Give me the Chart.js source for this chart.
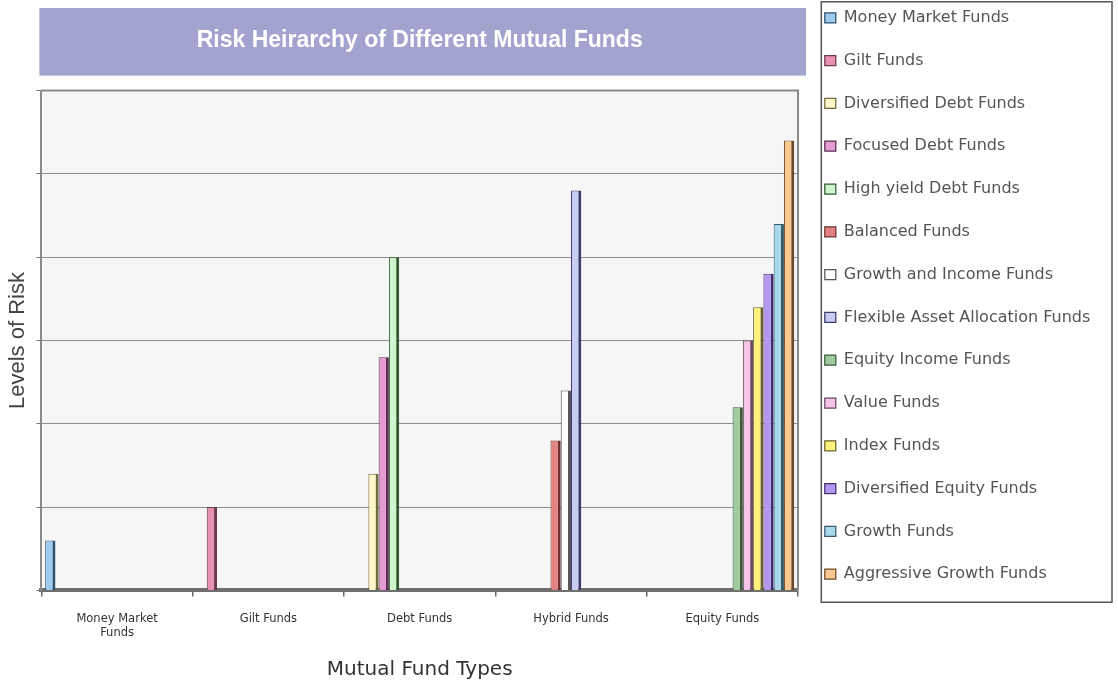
<!DOCTYPE html>
<html>
<head>
<meta charset="utf-8">
<script src="https://cdn.jsdelivr.net/npm/chart.js@4.4.1/dist/chart.umd.min.js"></script>
<style>
  html, body { margin: 0; padding: 0; background: #fff; }
  #wrap { width: 1118px; height: 696px; position: relative; }
</style>
</head>
<body>
<div id="wrap"><canvas id="riskChart"></canvas></div>
<script>
// categories on the x axis (tick text, first one wraps on two lines)
const fundTypes = [['Money Market', 'Funds'], 'Gilt Funds', 'Debt Funds', 'Hybrid Funds', 'Equity Funds'];

// one series per fund kind
const fundNames = [
  'Money Market Funds',
  'Gilt Funds',
  'Diversified Debt Funds',
  'Focused Debt Funds',
  'High yield Debt Funds',
  'Balanced Funds',
  'Growth and Income Funds',
  'Flexible Asset Allocation Funds',
  'Equity Income Funds',
  'Value Funds',
  'Index Funds',
  'Diversified Equity Funds',
  'Growth Funds',
  'Aggressive Growth Funds'
];
// index into fundTypes each series belongs to
const fundGroup = [0, 1, 2, 2, 2, 3, 3, 3, 4, 4, 4, 4, 4, 4];
const riskLevels = [0.6, 1, 1.4, 2.8, 4, 1.8, 2.4, 4.8, 2.2, 3, 3.4, 3.8, 4.4, 5.4];

const fillColors = [
  '#9dcbf0', '#e991b3', '#fff6c6', '#e59ad2', '#cff5cf', '#e58383', '#ffffff',
  '#c9cbf2', '#9ecc9e', '#f4c3e6', '#fff07a', '#b497ee', '#a7d8ec', '#f9c88f'
];
const edgeColors = [
  '#2f4f6f', '#6b3a4a', '#6f6a40', '#5a3050', '#2f5a2f', '#6a3030', '#555555',
  '#3a3c6a', '#3a5a3a', '#6a4a60', '#6a6030', '#3f2e6e', '#3a5a6a', '#6a4a2a'
];

const datasets = fundNames.map((name, k) => ({
  label: name,
  data: fundTypes.map((_, i) => (i === fundGroup[k] ? riskLevels[k] : null)),
  backgroundColor: fillColors[k],
  borderColor: edgeColors[k],
  borderWidth: { top: 1, left: 1, right: 3, bottom: 0 },
  categoryPercentage: 0.95,
  barPercentage: 1
}));

// title band, plot background, frame and legend box
const chartDecor = {
  id: 'chartDecor',
  afterLayout(chart) {
    // let the legend text run up to the canvas edge
    const lg = chart.legend;
    lg.right = chart.width - 2;
    lg.width = lg.right - lg.left;
  },
  beforeDraw(chart) {
    const { ctx, chartArea: a } = chart;
    ctx.save();
    ctx.fillStyle = '#ffffff';
    ctx.fillRect(0, 0, chart.width, chart.height);
    ctx.fillStyle = '#f6f6f6';
    ctx.fillRect(a.left, a.top, a.right - a.left, a.bottom - a.top);
    const tb = chart.titleBlock;
    ctx.fillStyle = '#a3a3cf';
    ctx.fillRect(tb.left - 2, tb.top + 25, tb.width + 10, tb.height - 40);
    ctx.restore();
  },
  beforeDatasetsDraw(chart) {
    const { ctx, chartArea: a } = chart;
    ctx.save();
    ctx.strokeStyle = '#8a8a8a';
    ctx.lineWidth = 2;
    ctx.beginPath();
    ctx.moveTo(a.left, a.top);
    ctx.lineTo(a.right, a.top);
    ctx.lineTo(a.right, a.bottom);
    ctx.stroke();
    ctx.restore();
  },
  afterDraw(chart) {
    const { ctx } = chart;
    const boxes = chart.legend.legendHitBoxes;
    if (!boxes || !boxes.length) return;
    const first = boxes[0];
    const last = boxes[boxes.length - 1];
    const x0 = first.left - 3.5;
    const y0 = first.top - 8;
    ctx.save();
    ctx.strokeStyle = '#555';
    ctx.lineWidth = 1.5;
    ctx.strokeRect(x0, y0, chart.width - 6 - x0, last.top + last.height + 20 - y0);
    ctx.restore();
  }
};

new Chart(document.getElementById('riskChart'), {
  type: 'bar',
  data: { labels: fundTypes, datasets: datasets },
  plugins: [chartDecor],
  options: {
    responsive: true,
    maintainAspectRatio: false,
    animation: false,
    layout: { padding: { top: -17, right: 54, bottom: 10, left: 0 } },
    plugins: {
      tooltip: { enabled: false },
      title: {
        display: true,
        fullSize: false,
        text: 'Risk Heirarchy of Different Mutual Funds',
        color: '#ffffff',
        font: { family: 'Liberation Sans, Arial, sans-serif', size: 23, weight: 'bold' },
        padding: { top: 44.2, bottom: 35.8 }
      },
      legend: {
        position: 'right',
        align: 'start',
        labels: {
          boxWidth: 11,
          boxHeight: 10,
          padding: 26.8,
          color: '#555',
          font: { family: 'DejaVu Sans, sans-serif', size: 16 }
        }
      }
    },
    scales: {
      x: {
        grid: { drawOnChartArea: false, tickLength: 6, color: '#666', lineWidth: 1.5 },
        border: { color: '#6e6e6e', width: 4 },
        ticks: {
          color: '#333',
          font: { family: 'DejaVu Sans, sans-serif', size: 11.5 },
          padding: 16,
          maxRotation: 0,
          autoSkip: false
        },
        title: {
          display: true,
          text: 'Mutual Fund Types',
          color: '#333',
          font: { family: 'DejaVu Sans, sans-serif', size: 20 },
          padding: { top: 2, bottom: 4 }
        }
      },
      y: {
        min: 0,
        max: 6,
        ticks: { stepSize: 1, padding: 0, callback: () => '' },
        grid: { color: '#8e8e8e', lineWidth: 1, tickLength: 5, tickColor: '#777' },
        border: { color: '#8a8a8a', width: 2 },
        title: {
          display: true,
          text: 'Levels of Risk',
          color: '#444',
          font: { family: 'Liberation Sans, Arial, sans-serif', size: 22 },
          padding: { top: 5, bottom: 5 }
        }
      }
    }
  }
});
</script>
</body>
</html>
